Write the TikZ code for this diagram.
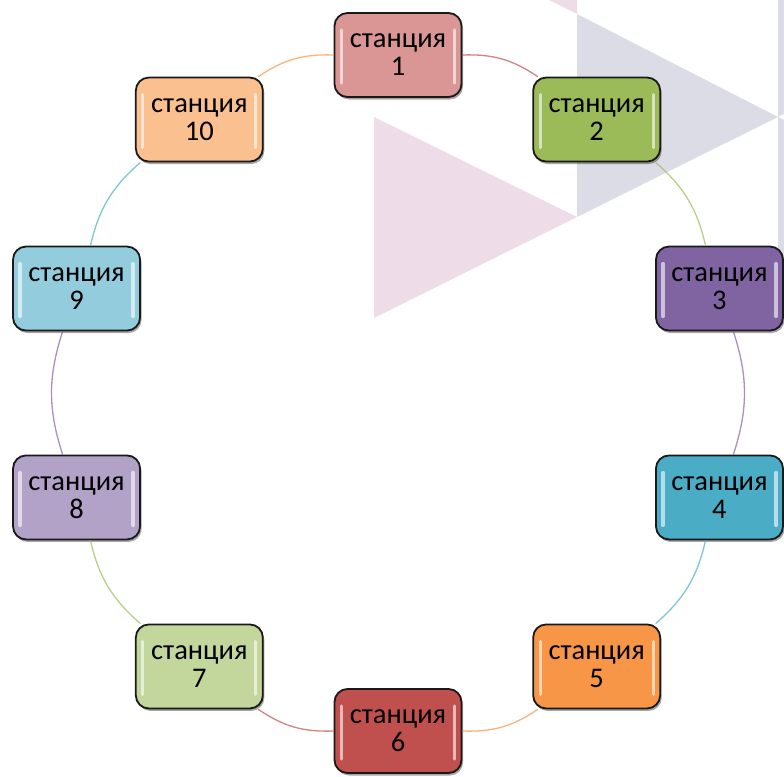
\documentclass[tikz,border=0pt]{standalone}
\usepackage{fontspec}
\setmainfont{Carlito}
\usetikzlibrary{shadows}

% station fills
\definecolor{fillA}{HTML}{D99694}
\definecolor{fillB}{HTML}{9BBB59}
\definecolor{fillC}{HTML}{8064A2}
\definecolor{fillD}{HTML}{4BACC6}
\definecolor{fillE}{HTML}{F79646}
\definecolor{fillF}{HTML}{C0504D}
\definecolor{fillG}{HTML}{C3D69B}
\definecolor{fillH}{HTML}{B3A2C7}
\definecolor{fillI}{HTML}{93CDDD}
\definecolor{fillJ}{HTML}{FAC090}
% ring segment colours
\definecolor{ringRed}{HTML}{C0504D}
\definecolor{ringGreen}{HTML}{9BBB59}
\definecolor{ringPurple}{HTML}{8064A2}
\definecolor{ringCyan}{HTML}{4BACC6}
\definecolor{ringOrange}{HTML}{F79646}
% backdrop triangles
\definecolor{bgPink}{HTML}{EEDDE8}
\definecolor{bgLav}{HTML}{DCDCE7}

\tikzset{
  station/.style={
    draw=black!90, line width=1.8pt, rounded corners=13pt,
    minimum width=127pt, minimum height=84pt, inner sep=0pt,
    align=center, text=black,
    font=\fontsize{28.5}{28}\selectfont,
    drop shadow={shadow xshift=1.5pt, shadow yshift=-2.5pt, opacity=0.35, fill=black},
    path picture={
      \draw[white, opacity=0.6, line width=3.2pt, line cap=round]
        ([xshift=7pt,yshift=-17pt]path picture bounding box.north west) --
        ([xshift=7pt,yshift=14pt]path picture bounding box.south west);
      \draw[white, opacity=0.6, line width=3.2pt, line cap=round]
        ([xshift=-7pt,yshift=-17pt]path picture bounding box.north east) --
        ([xshift=-7pt,yshift=14pt]path picture bounding box.south east);
    }
  },
  ring/.style={line width=1.3pt, opacity=0.7},
  backdrop/.style={draw=none}
}

\begin{document}
\begin{tikzpicture}[x=1pt,y=1pt]
  \useasboundingbox (0,0) rectangle (784,-776);
  \fill[white] (0,0) rectangle (784,-776);

  % backdrop triangles
  \fill[backdrop, bgPink] (374,-117) -- (374,-318) -- (577,-217) -- cycle;
  \fill[backdrop, bgPink] (577,-14) -- (577,188) -- (374,87) -- cycle;
  \fill[backdrop, bgLav] (577,-14) -- (577,-217) -- (778,-117) -- cycle;
  \fill[backdrop, bgLav] (778,88) -- (778,-117) -- (980,-14) -- cycle;
  \fill[backdrop, bgLav] (778,-117) -- (778,-318) -- (980,-217) -- cycle;

  % stations around the ring (centre 398,-393, radius 338)
  \node[station, fill=fillA] (s1)  at ({398+338*cos(90)},  {-393+338*sin(90)})  {станция\\1};
  \node[station, fill=fillB] (s2)  at ({398+338*cos(54)},  {-393+338*sin(54)})  {станция\\2};
  \node[station, fill=fillC] (s3)  at ({398+338*cos(18)},  {-393+338*sin(18)})  {станция\\3};
  \node[station, fill=fillD] (s4)  at ({398+338*cos(-18)}, {-393+338*sin(-18)}) {станция\\4};
  \node[station, fill=fillE] (s5)  at ({398+338*cos(-54)}, {-393+338*sin(-54)}) {станция\\5};
  \node[station, fill=fillF] (s6)  at ({398+338*cos(-90)}, {-393+338*sin(-90)}) {станция\\6};
  \node[station, fill=fillG] (s7)  at ({398+338*cos(-126)},{-393+338*sin(-126)}){станция\\7};
  \node[station, fill=fillH] (s8)  at ({398+338*cos(-162)},{-393+338*sin(-162)}){станция\\8};
  \node[station, fill=fillI] (s9)  at ({398+338*cos(162)}, {-393+338*sin(162)}) {станция\\9};
  \node[station, fill=fillJ] (s10) at ({398+338*cos(126)}, {-393+338*sin(126)}) {станция\\10};

  % ring segments
  \draw[ring, ringRed]    (s1)  to[bend left=18] (s2);
  \draw[ring, ringGreen]  (s2)  to[bend left=18] (s3);
  \draw[ring, ringPurple] (s3)  to[bend left=18] (s4);
  \draw[ring, ringCyan]   (s4)  to[bend left=18] (s5);
  \draw[ring, ringOrange] (s5)  to[bend left=18] (s6);
  \draw[ring, ringRed]    (s6)  to[bend left=18] (s7);
  \draw[ring, ringGreen]  (s7)  to[bend left=18] (s8);
  \draw[ring, ringPurple] (s8)  to[bend left=18] (s9);
  \draw[ring, ringCyan]   (s9)  to[bend left=18] (s10);
  \draw[ring, ringOrange] (s10) to[bend left=18] (s1);
\end{tikzpicture}
\end{document}
